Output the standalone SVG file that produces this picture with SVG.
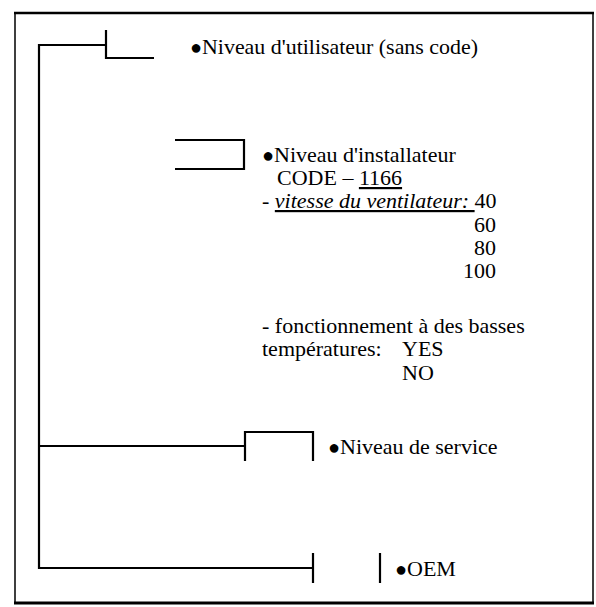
<svg xmlns="http://www.w3.org/2000/svg" width="596" height="607" viewBox="0 0 596 607">
<style>
text{font-family:"Liberation Serif","Times New Roman",serif;font-size:22px;fill:#000}
.b{font-size:20px}
.ln{fill:none;stroke:#000;stroke-width:2.2}
</style>
<rect x="0" y="0" width="596" height="607" fill="#fff"/>
<g id="frame">
<rect x="15" y="13" width="578" height="590" fill="none" stroke="#000" stroke-width="1.5"/>
<line x1="14" y1="13" x2="594" y2="13" stroke="#000" stroke-width="2.5"/>
<line x1="14" y1="603" x2="594" y2="603" stroke="#000" stroke-width="3"/>
</g>
<g id="connectors">
<polyline class="ln" points="106,45 39,45 39,568 313,568"/>
<line class="ln" x1="39" y1="446" x2="245" y2="446"/>
</g>
<g id="user">
<polyline class="ln" points="106,30 106,58 154,58"/>
<text y="54"><tspan class="b" x="190">●</tspan><tspan x="202" textLength="276" lengthAdjust="spacingAndGlyphs">Niveau d'utilisateur (sans code)</tspan></text>
</g>
<g id="installer">
<polyline class="ln" points="175,140 244,140 244,169 175,169"/>
<text y="162"><tspan class="b" x="262">●</tspan><tspan x="274">Niveau d'installateur</tspan></text>
<text x="277" y="185">CODE – <tspan text-decoration="underline">1166</tspan></text>
<text x="262" y="208">- <tspan font-style="italic" text-decoration="underline">vitesse du ventilateur: </tspan>40</text>
<text x="496" y="232" text-anchor="end">60</text>
<text x="496" y="255" text-anchor="end">80</text>
<text x="496" y="278" text-anchor="end">100</text>
<text x="262" y="333">- fonctionnement à des basses</text>
<text x="262" y="356">températures:</text>
<text x="402" y="356">YES</text>
<text x="402" y="380">NO</text>
</g>
<g id="service">
<polyline class="ln" points="245,461 245,432 313,432 313,461"/>
<text y="454"><tspan class="b" x="328">●</tspan><tspan x="340">Niveau de service</tspan></text>
</g>
<g id="oem">
<line class="ln" x1="313" y1="553" x2="313" y2="583"/>
<line class="ln" x1="380" y1="553" x2="380" y2="583" stroke-width="3"/>
<text y="576"><tspan class="b" x="395">●</tspan><tspan x="407">OEM</tspan></text>
</g>
</svg>
